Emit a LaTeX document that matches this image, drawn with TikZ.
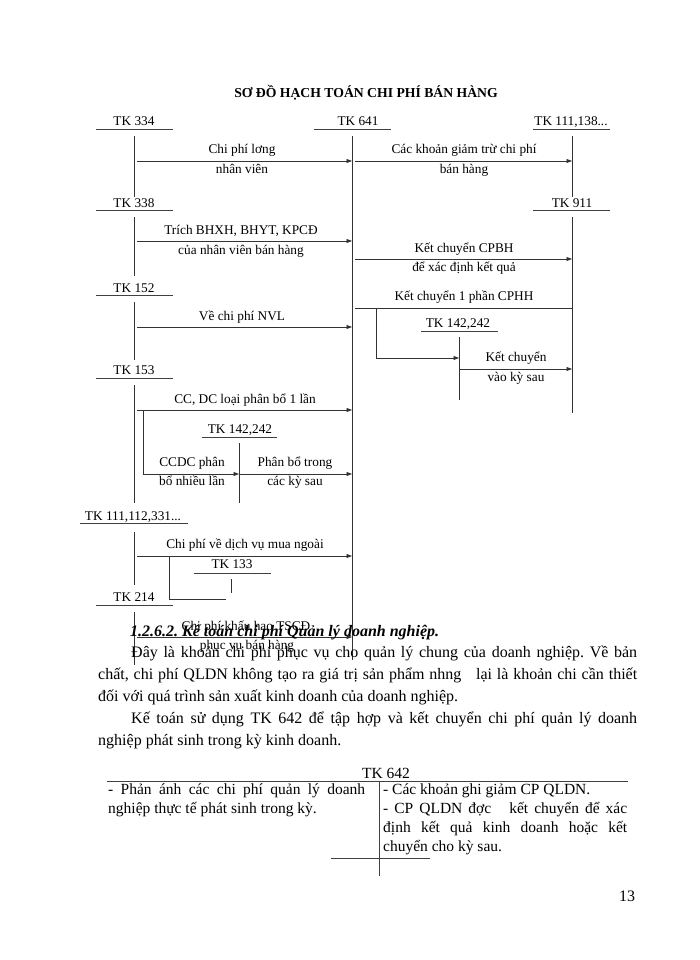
\documentclass[tikz,border=0pt]{standalone}
\usepackage{fontspec}
\setmainfont{Liberation Serif}
\usetikzlibrary{arrows.meta}
\frenchspacing
\newcommand\dgfont{\fontsize{13.3}{15}\selectfont}
\newcommand\bodyfont{\fontsize{16}{20}\selectfont}
\newcommand\tabfont{\fontsize{15.5}{19}\selectfont}
\newcommand\ttlfont{\fontsize{13.7}{16}\selectfont\bfseries}
\begin{document}
\begin{tikzpicture}[x=1pt,y=-1pt,
  lbl/.style={font=\dgfont, inner sep=0pt, text height=9.5pt, text depth=2.5pt},
  ln/.style={line width=0.8pt, draw=black!80},
  arr/.style={ln, -{Triangle[length=5.5pt,width=4pt]}},
  uline/.style={line width=0.9pt, draw=black!75},
  txt/.style={font=\bodyfont, inner sep=0pt, anchor=west, text height=11.5pt, text depth=3.5pt},
  tab/.style={font=\tabfont, inner sep=0pt, anchor=west, text height=11pt, text depth=3.5pt}]
\fill[white] (0,0) rectangle (700,960);
\useasboundingbox (0,0) rectangle (700,960);

% title
\node[font=\ttlfont, inner sep=0pt] (title) at (366,93) {SƠ ĐỒ HẠCH TOÁN CHI PHÍ BÁN HÀNG};

% account labels
\node[lbl] (tk334) at (134,122) {TK 334};
\node[lbl] (tk641) at (358,122) {TK 641};
\node[lbl] (tk111) at (571,122) {TK 111,138...};
\node[lbl] (tk338) at (134,204) {TK 338};
\node[lbl] (tk911) at (572,204) {TK 911};
\node[lbl] (tk152) at (134,289) {TK 152};
\node[lbl] (tk142r) at (458,324) {TK 142,242};
\node[lbl] (tk153) at (134,371) {TK 153};
\node[lbl] (tk142l) at (240,430) {TK 142,242};
\node[lbl] (tk1112) at (133,517) {TK 111,112,331...};
\node[lbl] (tk133) at (232,565) {TK 133};
\node[lbl] (tk214) at (134,598) {TK 214};

% underlines
\draw[uline] (96,129) -- (173,129);
\draw[uline] (314,129) -- (391,129);
\draw[uline] (533,129) -- (610,129);
\draw[uline] (96,210) -- (173,210);
\draw[uline] (533,210) -- (610,210);
\draw[uline] (96,295) -- (173,295);
\draw[uline] (421,331) -- (498,331);
\draw[uline] (96,378) -- (173,378);
\draw[uline] (202,437) -- (277,437);
\draw[uline] (80,523) -- (188,523);
\draw[uline] (194,573) -- (271,573);
\draw[uline] (96,605) -- (173,605);

% account verticals
\coordinate (v641a) at (352,136); \coordinate (v641b) at (352,660);
\draw[ln] (134,136) -- (134,197);
\draw[ln] (v641a) -- (v641b);
\draw[ln] (572,136) -- (572,197);
\draw[ln] (134,217) -- (134,276);
\draw[ln] (572,217) -- (572,413);
\draw[ln] (134,302) -- (134,360);
\draw[ln] (459,337) -- (459,400);
\draw[ln] (134,385) -- (134,503);
\draw[ln] (239,443) -- (239,503);
\draw[ln] (134,532) -- (134,585);
\draw[ln] (231,579) -- (231,593);
\draw[ln] (134,612) -- (134,665);

% flows
\draw[arr] (137,161) -- (352,161);
\draw[arr] (355,161) -- (572,161);
\draw[arr] (137,241) -- (352,241);
\draw[arr] (355,259) -- (572,259);
\draw[ln] (355,308) -- (572,308);
\draw[arr] (376,308) -- (376,358) -- (459,358);
\draw[arr] (137,327) -- (352,327);
\draw[arr] (459,369) -- (572,369);
\draw[arr] (137,410) -- (352,410);
\draw[arr] (143,410) -- (143,474) -- (239,474);
\draw[arr] (239,474) -- (352,474);
\draw[arr] (137,556) -- (352,556);
\draw[ln] (169,556) -- (169,599) -- (226,599);
\draw[arr] (137,637) -- (352,637);

% flow labels
\node[lbl] (l1a) at (242,150) {Chi phí lơng};
\node[lbl] (l1b) at (242,170) {nhân viên};
\node[lbl] (l2a) at (464,150) {Các khoản giảm trừ chi phí};
\node[lbl] (l2b) at (464,170) {bán hàng};
\node[lbl] (l3a) at (241,231) {Trích BHXH, BHYT, KPCĐ};
\node[lbl] (l3b) at (241,251) {của nhân viên bán hàng};
\node[lbl] (l4a) at (464,249) {Kết chuyển CPBH};
\node[lbl] (l4b) at (464,268) {để xác định kết quả};
\node[lbl] (l5) at (464,297) {Kết chuyển 1 phần CPHH};
\node[lbl] (l6) at (242,317) {Về chi phí NVL};
\node[lbl] (l7a) at (516,358) {Kết chuyển};
\node[lbl] (l7b) at (516,378) {vào kỳ sau};
\node[lbl] (l8) at (245,400) {CC, DC loại phân bổ 1 lần};
\node[lbl] (l9a) at (192,463) {CCDC phân};
\node[lbl] (l9b) at (192,482) {bổ nhiều lần};
\node[lbl] (l10a) at (295,463) {Phân bổ trong};
\node[lbl] (l10b) at (295,482) {các kỳ sau};
\node[lbl] (l11) at (245,545) {Chi phí về dịch vụ mua ngoài};

% body text
\node[txt, font=\bodyfont\bfseries\itshape] (head) at (130,632) {1.2.6.2. Kế toán chi phí Quản lý doanh nghiệp.};
\node[lbl] (l12a) at (246,627) {Chi phí khấu hao TSCĐ};
\node[lbl] (l12b) at (247,646) {phục vụ bán hàng};
\node[txt] (p1) at (131,653) {\makebox[506pt][s]{Đây là khoản chi phí phục vụ cho quản lý chung của doanh nghiệp. Về bản}};
\node[txt] (p2) at (98,675) {\makebox[539pt][s]{chất, chi phí QLDN không tạo ra giá trị sản phẩm nhng~~~lại là khoản chi cần thiết}};
\node[txt] (p3) at (98,697) {đối với quá trình sản xuất kinh doanh của doanh nghiệp.};
\node[txt] (p4) at (131,719) {\makebox[506pt][s]{Kế toán sử dụng TK 642 để tập hợp và kết chuyển chi phí quản lý doanh}};
\node[txt] (p5) at (98,741) {nghiệp phát sinh trong kỳ kinh doanh.};

% T account 642
\node[font=\tabfont, inner sep=0pt] (tk642) at (386,773) {TK 642};
\draw[uline] (107,781) -- (628,781);
\draw[uline] (379,781) -- (379,876);
\draw[uline] (331,858) -- (430,858);
\node[tab] (c1) at (108,791) {\makebox[257pt][s]{- Phản ánh các chi phí quản lý doanh}};
\node[tab] (c2) at (108,810) {nghiệp thực tế phát sinh trong kỳ.};
\node[tab] (d1) at (383,791) {- Các khoản ghi giảm CP QLDN.};
\node[tab] (d2) at (383,810) {\makebox[244pt][s]{- CP QLDN đợc~~~kết chuyển để xác}};
\node[tab] (d3) at (383,829) {\makebox[244pt][s]{định kết quả kinh doanh hoặc kết}};
\node[tab] (d4) at (383,848) {chuyển cho kỳ sau.};

% page number
\node[font=\bodyfont, inner sep=0pt] (pg) at (627,896) {13};
\end{tikzpicture}
\end{document}
